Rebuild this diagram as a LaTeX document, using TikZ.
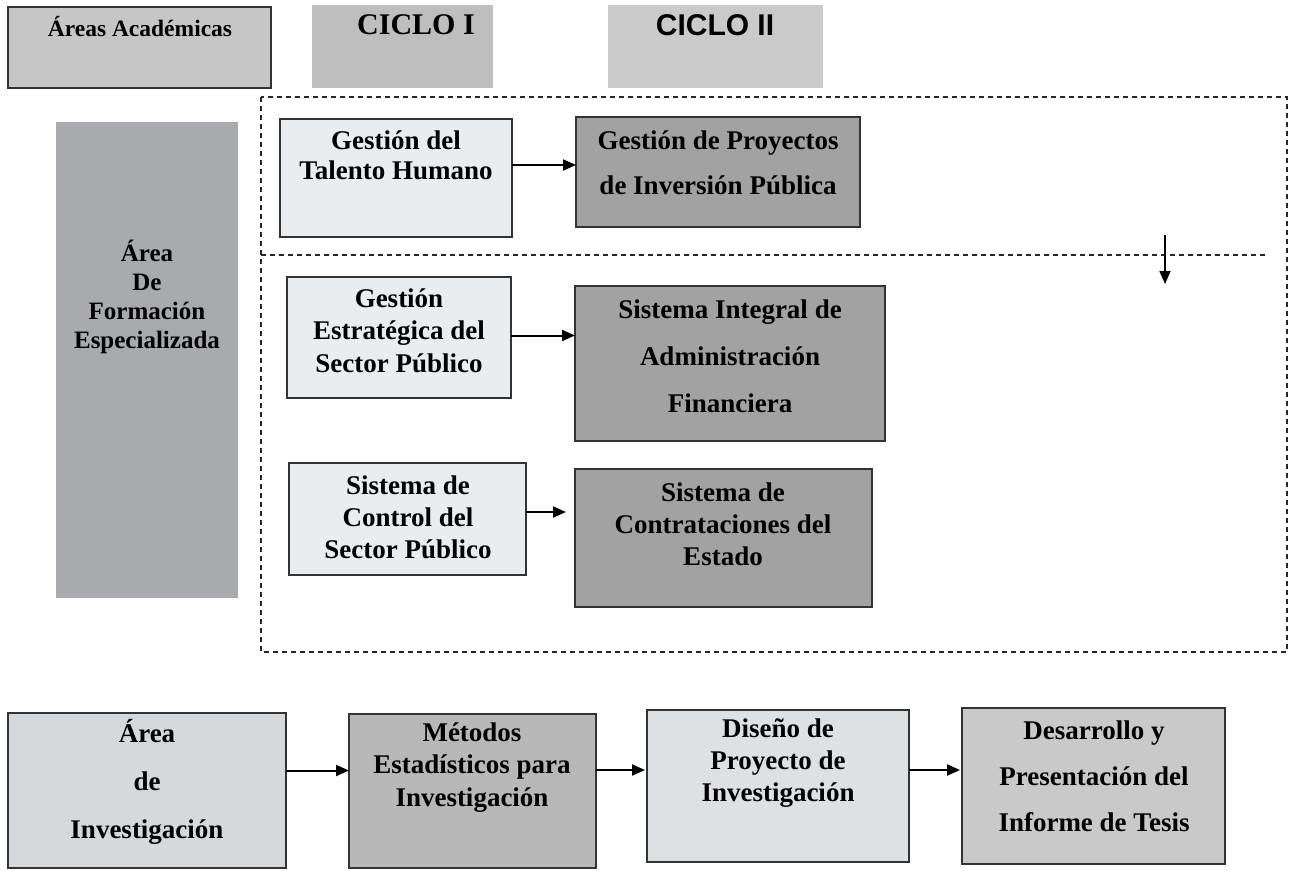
\documentclass[tikz,border=0pt]{standalone}
\usepackage{fontspec}
\setmainfont{Liberation Serif}
\newfontfamily\arialf{Liberation Sans}
\usetikzlibrary{arrows.meta}
\definecolor{lightc}{HTML}{E9EDF0}
\definecolor{darkc}{HTML}{A2A2A2}
\definecolor{afec}{HTML}{A8AAAD}
\definecolor{hdra}{HTML}{C6C6C6}
\definecolor{cicloa}{HTML}{BEBEBE}
\definecolor{ciclob}{HTML}{CACACA}
\definecolor{invc}{HTML}{D6D9DC}
\definecolor{metc}{HTML}{B8B8B8}
\definecolor{disc}{HTML}{DEE1E4}
\definecolor{desc}{HTML}{C9C9C9}
\begin{document}
\begin{tikzpicture}[x=1pt,y=-1pt,
  box/.style={draw=black!80, line width=1.2pt, inner sep=0pt, outer sep=0pt, anchor=north west},
  txt/.style={align=center, inner sep=0pt},
  fs/.style={font=\bfseries\fontsize{27}{#1}\selectfont},
  arr/.style={-{Triangle[length=13pt,width=11pt]}, line width=2pt},
  dashline/.style={dash pattern=on 5pt off 4pt, line width=1.3pt, draw=black!85}]
\useasboundingbox (0,0) rectangle (1292,870);
% header
\node[box, fill=hdra, minimum width=263pt, minimum height=81pt] (aa) at (8,7) {};
\node[txt, font=\bfseries\fontsize{23.5}{28}\selectfont] (aat) at (140,27) {Áreas Académicas};
\node[box, draw=none, fill=cicloa, minimum width=181pt, minimum height=83pt] (c1) at (312,5) {};
\node[txt, font=\bfseries\fontsize{30}{36}\selectfont] (c1t) at (416,25) {CICLO I};
\node[box, draw=none, fill=ciclob, minimum width=215pt, minimum height=83pt] (c2) at (608,5) {};
\node[txt, font=\arialf\bfseries\fontsize{30}{36}\selectfont] (c2t) at (715,25) {CICLO II};
% dashed frame
\draw[dashline] (261,97) rectangle (1287,652);
\draw[dashline] (261,255) -- (1265,255);
\coordinate (da) at (1165,235);
\coordinate (db) at (1165,284);
\draw[-{Triangle[length=13pt,width=11pt]}, line width=1.5pt] (da) -- (db);
% left area
\node[box, draw=none, fill=afec, minimum width=182pt, minimum height=476pt] (afe) at (56,122) {};
\node[txt, font=\bfseries\fontsize{25}{29}\selectfont] (afet) at (147,296.5) {Área\\De\\Formación\\Especializada};
% cycle boxes
\node[box, fill=lightc, minimum width=232pt, minimum height=118pt] (gth) at (280,119) {};
\node[txt, fs=30] (gtht) at (396,155) {Gestión del\\Talento Humano};
\node[box, fill=darkc, minimum width=284pt, minimum height=110pt] (gpi) at (576,117) {};
\node[txt, fs=45] (gpit) at (718,162.5) {Gestión de Proyectos\\de Inversión Pública};
\node[box, fill=lightc, minimum width=224pt, minimum height=121pt] (ges) at (287,277) {};
\node[txt, fs=32.5] (gest) at (399,330.5) {Gestión\\Estratégica del\\Sector Público};
\node[box, fill=darkc, minimum width=310pt, minimum height=155pt] (sia) at (575,286) {};
\node[txt, fs=47] (siat) at (730,356) {Sistema Integral de\\Administración\\Financiera};
\node[box, fill=lightc, minimum width=237pt, minimum height=112pt] (scs) at (289,463) {};
\node[txt, fs=32] (scst) at (408,517) {Sistema de\\Control del\\Sector Público};
\node[box, fill=darkc, minimum width=297pt, minimum height=138pt] (sce) at (575,469) {};
\node[txt, fs=32] (scet) at (723,524) {Sistema de\\Contrataciones del\\Estado};
\draw[arr] ([yshift=13pt]gth.east) -- ([yshift=13pt]gth.east -| gpi.west);
\draw[arr] ([yshift=2pt]ges.east) -- ([yshift=2pt]ges.east -| sia.west);
\draw[arr, shorten >=9pt] ([yshift=7pt]scs.east) -- ([yshift=7pt]scs.east -| sce.west);
% bottom row
\node[box, fill=invc, minimum width=278pt, minimum height=155pt] (ain) at (8,713) {};
\node[txt, fs=48] (aint) at (147,782) {Área\\de\\Investigación};
\node[box, fill=metc, minimum width=247pt, minimum height=154pt] (met) at (349,714) {};
\node[txt, fs=32.5] (mett) at (472,767.5) {Métodos\\Estadísticos para\\Investigación};
\node[box, fill=disc, minimum width=262pt, minimum height=152pt] (dis) at (647,710) {};
\node[txt, fs=32] (dist) at (778,763) {Diseño de\\Proyecto de\\Investigación};
\node[box, fill=desc, minimum width=263pt, minimum height=156pt] (des) at (962,708) {};
\node[txt, fs=46] (dest) at (1094,776) {Desarrollo y\\Presentación del\\Informe de Tesis};
\draw[arr] ([yshift=20pt]ain.east) -- ([yshift=20pt]ain.east -| met.west);
\draw[arr, shorten >=2pt] ([yshift=21pt]met.east) -- ([yshift=21pt]met.east -| dis.west);
\draw[arr, shorten >=2pt] ([yshift=16pt]dis.east) -- ([yshift=16pt]dis.east -| des.west);
\end{tikzpicture}
\end{document}
